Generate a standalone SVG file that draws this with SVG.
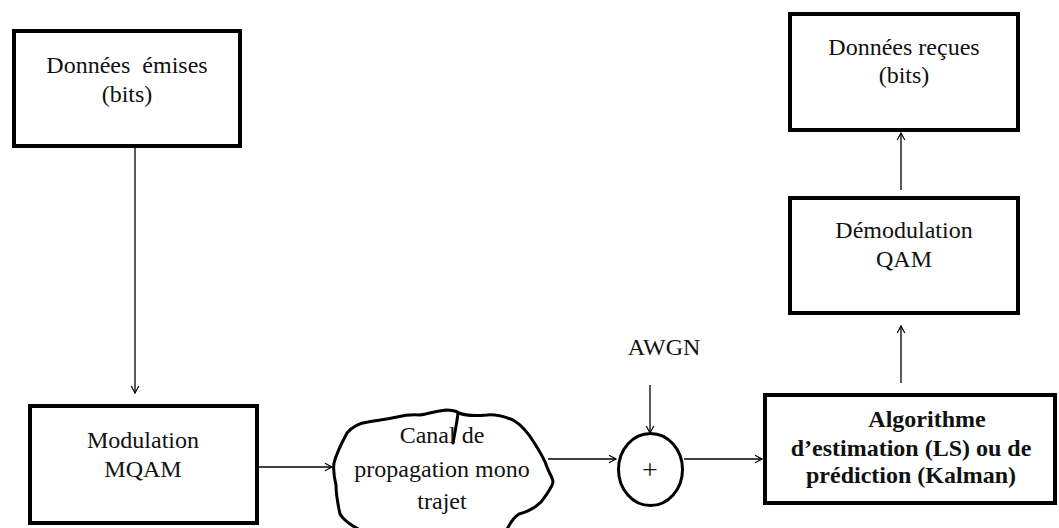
<svg xmlns="http://www.w3.org/2000/svg" width="1059" height="528" viewBox="0 0 1059 528">
  <style>
    .box { fill: #ffffff; stroke: #000000; stroke-width: 4; }
    .lbl { font-family: "Liberation Serif", "DejaVu Serif", serif; font-size: 24px; fill: #111111; text-anchor: middle; }
    .bold { font-weight: bold; }
    .wire { fill: none; stroke: #000000; stroke-width: 1.3; }
    .cloud { fill: #ffffff; stroke: #000000; stroke-width: 3; stroke-linejoin: round; stroke-linecap: round; }
  </style>
  <defs>
    <marker id="arrow" markerUnits="userSpaceOnUse" markerWidth="12" markerHeight="10" refX="8" refY="5" orient="auto">
      <path d="M1,1.2 L8,5 L1,8.8" fill="none" stroke="#000000" stroke-width="1.2"/>
    </marker>
  </defs>

  <rect width="1059" height="528" fill="#ffffff"/>

  <!-- connectors -->
  <g id="connectors">
    <line class="wire" x1="135" y1="148" x2="135" y2="393" marker-end="url(#arrow)"/>
    <line class="wire" x1="259" y1="467" x2="332" y2="467" marker-end="url(#arrow)"/>
    <line class="wire" x1="548" y1="459" x2="616" y2="459" marker-end="url(#arrow)"/>
    <line class="wire" x1="650" y1="385" x2="650" y2="433" marker-end="url(#arrow)"/>
    <line class="wire" x1="684" y1="459" x2="762" y2="459" marker-end="url(#arrow)"/>
    <line class="wire" x1="901" y1="383" x2="901" y2="326" marker-end="url(#arrow)"/>
    <line class="wire" x1="901" y1="190" x2="901" y2="133" marker-end="url(#arrow)"/>
  </g>

  <!-- source data -->
  <g id="donnees-emises">
    <rect class="box" x="14" y="31" width="226" height="115"/>
    <text class="lbl" x="127" y="73" xml:space="preserve">Données  émises</text>
    <text class="lbl" x="127" y="102">(bits)</text>
  </g>

  <!-- modulator -->
  <g id="modulation">
    <rect class="box" x="30" y="406" width="227" height="117"/>
    <text class="lbl" x="143" y="448">Modulation</text>
    <text class="lbl" x="143" y="477">MQAM</text>
  </g>

  <!-- single-path propagation channel -->
  <g id="canal">
    <path class="cloud" d="M347,433 C352,427 360,423 368,422 C378,420 388,419 397,417 C405,415 412,414 420,415 C428,414 436,411 446,410 C452,410 456,411 459,413 C466,416 476,416 487,415 C495,414 503,416 513,420 C522,425 529,434 535,444 C540,452 545,460 547,467 C549,473 553,478 553,482 C552,488 547,494 541,502 C535,508 527,512 519,514 C513,518 509,524 505,534 C480,540 450,536 420,539 C395,540 375,536 362,531 C352,526 344,521 340,514 C338,505 336,495 336,485 C334,477 333,470 334,463 C336,455 340,446 347,433 Z"/>
    <path class="cloud" d="M458,413 C457,422 455,432 453,443"/>
    <text class="lbl" x="442" y="443">Canal de</text>
    <text class="lbl" x="442" y="477">propagation mono</text>
    <text class="lbl" x="442" y="509">trajet</text>
  </g>

  <!-- noise input label -->
  <g id="awgn">
    <text class="lbl" x="664" y="355">AWGN</text>
  </g>

  <!-- adder -->
  <g id="somme">
    <ellipse cx="650.5" cy="469.5" rx="32" ry="36" fill="#ffffff" stroke="#000000" stroke-width="3"/>
    <text class="lbl" x="650" y="479" style="font-size:28px">+</text>
  </g>

  <!-- estimation / prediction -->
  <g id="algorithme">
    <rect class="box" x="765" y="395" width="290" height="108"/>
    <text class="lbl bold" x="927" y="427">Algorithme</text>
    <text class="lbl bold" x="911" y="456">d’estimation (LS) ou de</text>
    <text class="lbl bold" x="911" y="483">prédiction (Kalman)</text>
  </g>

  <!-- demodulator -->
  <g id="demodulation">
    <rect class="box" x="790" y="198" width="228" height="115"/>
    <text class="lbl" x="904" y="238">Démodulation</text>
    <text class="lbl" x="904" y="267">QAM</text>
  </g>

  <!-- received data -->
  <g id="donnees-recues">
    <rect class="box" x="790" y="14" width="228" height="116"/>
    <text class="lbl" x="904" y="55">Données reçues</text>
    <text class="lbl" x="904" y="83">(bits)</text>
  </g>
</svg>
